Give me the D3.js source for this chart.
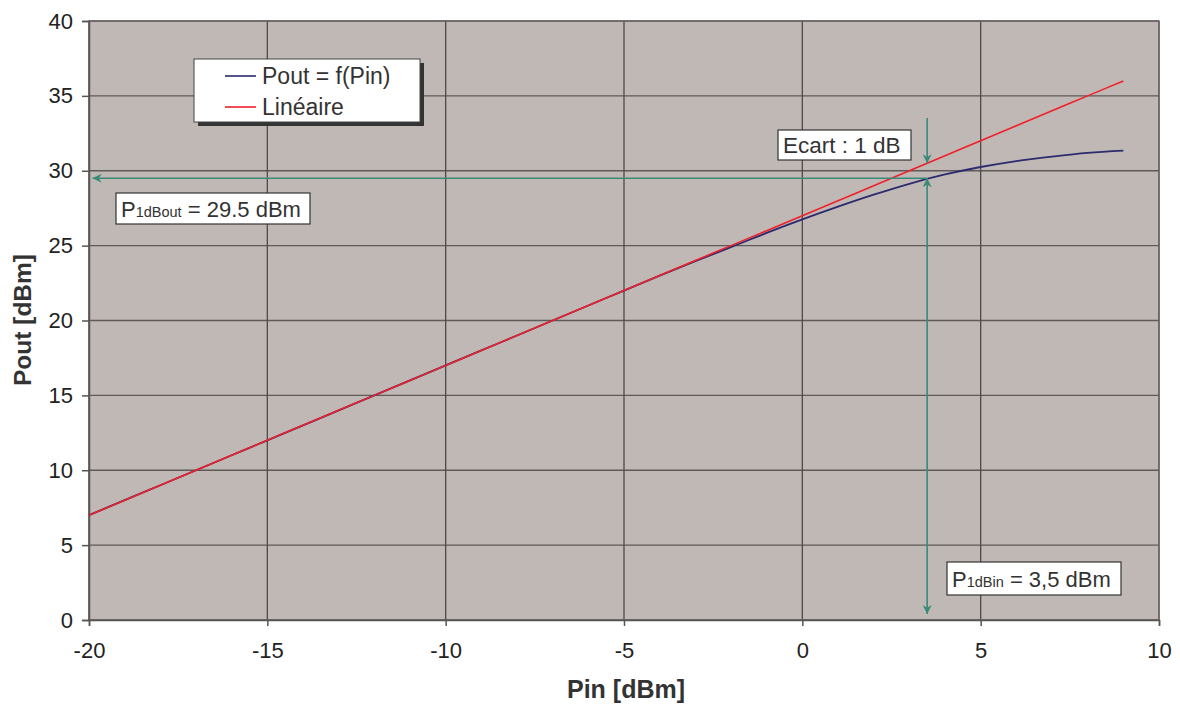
<!DOCTYPE html>
<html><head><meta charset="utf-8">
<script src="https://cdn.jsdelivr.net/npm/d3@7/dist/d3.min.js"></script>
<style>body{margin:0;background:#fff;font-family:"Liberation Sans",Arial,sans-serif;}</style>
</head><body><svg id="c" width="1180" height="704"></svg>
<script>
const pin = [-20,-19,-18,-17,-16,-15,-14,-13,-12,-11,-10,-9,-8,-7,-6,-5,-4,-3,-2,-1,0,1,2,3,4,5,6,7,8,9];
const poutMeasured = [7,8,9,10,11,12,13,14,15,16,17,18,19,20,21,22,23,23.97,24.9,25.85,26.75,27.6,28.4,29.13,29.75,30.25,30.65,30.95,31.2,31.35];
const poutLinear = [7,8,9,10,11,12,13,14,15,16,17,18,19,20,21,22,23,24,25,26,27,28,29,30,31,32,33,34,35,36];
const xTicks = [-20,-15,-10,-5,0,5,10];
const yTicks = [0,5,10,15,20,25,30,35,40];
const legendLabels = ["Pout = f(Pin)","Linéaire"];
const seriesColors = ["#2b2b6e","#f0202a"];
const p1dBin = 3.5, p1dBout = 29.5, linAtP1 = 30.5;

const svg = d3.select("#c");
const L=89, T=21, R=1159, B=620;
const x = d3.scaleLinear().domain([-20,10]).range([L,R]);
const y = d3.scaleLinear().domain([0,40]).range([B,T]);
const FONT = "Liberation Sans, Arial, sans-serif";

svg.append("rect").attr("x",L).attr("y",T).attr("width",R-L).attr("height",B-T).attr("fill","#c0b8b5");
// grid
svg.append("g").selectAll("line").data(yTicks).join("line")
  .attr("x1",L).attr("x2",R).attr("y1",d=>y(d)).attr("y2",d=>y(d)).attr("stroke","#5e5a59").attr("stroke-width",1.3);
svg.append("g").selectAll("line").data(xTicks).join("line")
  .attr("y1",T).attr("y2",B).attr("x1",d=>x(d)).attr("x2",d=>x(d)).attr("stroke","#4e4a49").attr("stroke-width",1.3);
svg.append("rect").attr("x",L).attr("y",T).attr("width",R-L).attr("height",B-T).attr("fill","none").attr("stroke","#6b6766").attr("stroke-width",1.3);

const fmt = d => String(d);
const xa = svg.append("g").attr("transform",`translate(0,${B})`).call(d3.axisBottom(x).tickValues(xTicks).tickSize(6).tickPadding(16).tickFormat(fmt));
const ya = svg.append("g").attr("transform",`translate(${L},0)`).call(d3.axisLeft(y).tickValues(yTicks).tickSize(7).tickPadding(9).tickFormat(fmt));
[xa,ya].forEach(a=>{a.selectAll("path,line").attr("stroke","#555").attr("stroke-width",1.5);
  a.selectAll("text").attr("font-size",22).attr("fill","#222").attr("font-family",FONT);});

svg.append("text").attr("x",626).attr("y",698).attr("text-anchor","middle").attr("font-size",25).attr("font-weight","bold").attr("fill","#333").attr("font-family",FONT).text("Pin [dBm]");
svg.append("text").attr("transform","translate(31,320) rotate(-90)").attr("text-anchor","middle").attr("font-size",24.5).attr("font-weight","bold").attr("fill","#333").attr("font-family",FONT).text("Pout [dBm]");

const line = d3.line().x((d,i)=>x(pin[i])).y(d=>y(d)).curve(d3.curveMonotoneX);
svg.append("path").attr("d",line(poutMeasured)).attr("fill","none").attr("stroke",seriesColors[0]).attr("stroke-width",1.8);
svg.append("path").attr("d",line(poutLinear)).attr("fill","none").attr("stroke",seriesColors[1]).attr("stroke-width",1.6);

// arrows
const teal="#3a8a78";
const defs=svg.append("defs");
defs.append("marker").attr("id","ah").attr("viewBox","0 0 10 10").attr("refX",10).attr("refY",5)
  .attr("markerWidth",11).attr("markerHeight",9).attr("markerUnits","userSpaceOnUse").attr("orient","auto-start-reverse")
  .append("path").attr("d","M0,0 L10,5 L0,10 L3,5 Z").attr("fill",teal);
function arrow(x1,y1,x2,y2,start,end){
  const l=svg.append("line").attr("x1",x1).attr("y1",y1).attr("x2",x2).attr("y2",y2).attr("stroke",teal).attr("stroke-width",1.6);
  if(end) l.attr("marker-end","url(#ah)");
  if(start) l.attr("marker-start","url(#ah)");
}
arrow(x(p1dBin),y(p1dBout),x(-19.9),y(p1dBout),false,true);
arrow(x(p1dBin),y(p1dBout),x(p1dBin),y(0.4),true,true);
arrow(x(p1dBin),118,x(p1dBin),y(linAtP1),false,true);

// annotation boxes
function box(bx,by,w,h){svg.append("rect").attr("x",bx).attr("y",by).attr("width",w).attr("height",h).attr("fill","#fff").attr("stroke","#333").attr("stroke-width",1.2);}
box(778,130,133,30);
svg.append("text").attr("x",783).attr("y",153).attr("font-size",22.5).attr("fill","#333").attr("font-family",FONT).text("Ecart : 1 dB");

box(116,193,194,31);
const t1=svg.append("text").attr("x",121).attr("y",217).attr("font-size",22).attr("fill","#333").attr("font-family",FONT);
t1.append("tspan").text("P");
t1.append("tspan").attr("font-size",14.5).text("1dBout");
t1.append("tspan").text(" = 29.5 dBm");

box(947,562,174,33);
const t2=svg.append("text").attr("x",952).attr("y",587).attr("font-size",22).attr("fill","#333").attr("font-family",FONT);
t2.append("tspan").text("P");
t2.append("tspan").attr("font-size",14.5).text("1dBin");
t2.append("tspan").text(" = 3,5 dBm");

// legend
svg.append("rect").attr("x",198).attr("y",63).attr("width",226).attr("height",63).attr("fill","#333");
svg.append("rect").attr("x",194).attr("y",59).attr("width",226).attr("height",63).attr("fill","#fff").attr("stroke","#444").attr("stroke-width",1);
legendLabels.forEach((lab,i)=>{
  const ly = 76 + i*31;
  svg.append("line").attr("x1",225).attr("x2",256).attr("y1",ly).attr("y2",ly).attr("stroke",seriesColors[i]).attr("stroke-width",1.6);
  svg.append("text").attr("x",262).attr("y",ly+8).attr("font-size",23).attr("fill","#333").attr("font-family",FONT).text(lab);
});
</script></body></html>
